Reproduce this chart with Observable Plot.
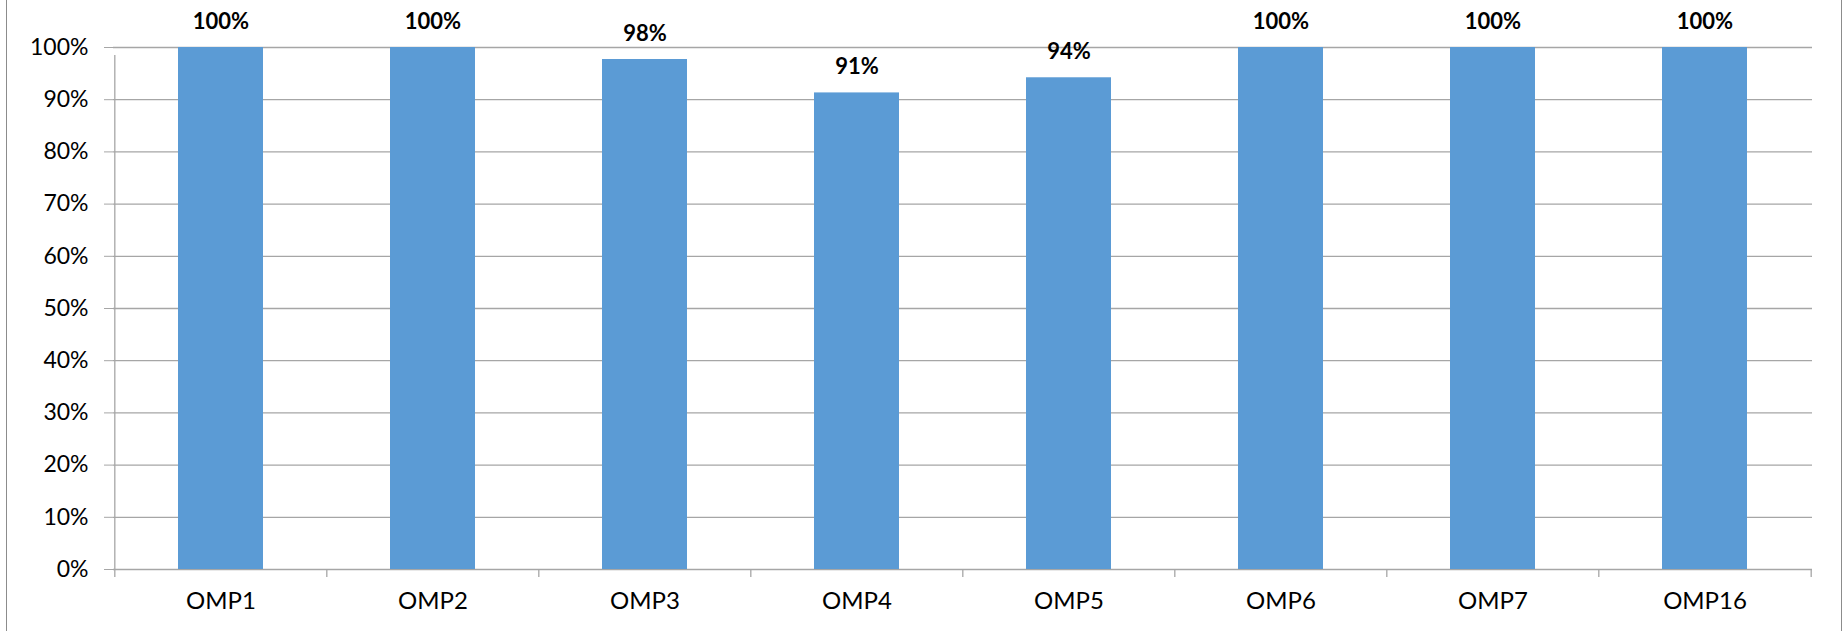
<!DOCTYPE html>
<html>
<head>
<meta charset="utf-8">
<script src="https://cdn.jsdelivr.net/npm/d3@7"></script>
<script src="https://cdn.jsdelivr.net/npm/@observablehq/plot@0.6"></script>
<style>
  html, body { margin: 0; padding: 0; background: #fff; }
  #wrap { position: relative; width: 1843px; height: 631px; overflow: hidden; }
  .edge { position: absolute; top: 0; bottom: 0; width: 1px; background: #8c8c8c; }
</style>
</head>
<body>
<div id="wrap">
  <div class="edge" style="left:6px"></div>
  <div class="edge" style="left:1841px"></div>
</div>
<script>
const categories = ["OMP1", "OMP2", "OMP3", "OMP4", "OMP5", "OMP6", "OMP7", "OMP16"];
const values = [1.00, 1.00, 0.977, 0.913, 0.942, 1.00, 1.00, 1.00];
const labels = ["100%", "100%", "98%", "91%", "94%", "100%", "100%", "100%"];
const yTicks = [0, 0.1, 0.2, 0.3, 0.4, 0.5, 0.6, 0.7, 0.8, 0.9, 1.0];

const data = categories.map((c, i) => ({cat: c, value: values[i], label: labels[i]}));

const W = 1843, H = 631;
const mL = 113, mR = 31, mT = 47, mB = 62;
const step = (W - mL - mR) / categories.length;

const plot = Plot.plot({
  width: W,
  height: H,
  marginLeft: mL,
  marginRight: mR,
  marginTop: mT,
  marginBottom: mB,
  style: {fontFamily: "Lato, 'Open Sans', sans-serif", background: "transparent", overflow: "visible"},
  x: {domain: categories, paddingInner: 0.6, paddingOuter: 0.3, label: null},
  y: {domain: [0, 1], label: null},
  marks: [
    Plot.ruleY(yTicks, {stroke: "#a6a6a6", strokeWidth: 1.3}),
    Plot.barY(data, {x: "cat", y: "value", fill: "#5b9bd5"}),
    Plot.ruleX(categories, {x: d => d, y1: 0, y2: 0, dx: -step / 2, insetBottom: -8, stroke: "#a6a6a6", strokeWidth: 1.3}),
    Plot.ruleX([categories[categories.length - 1]], {x: d => d, y1: 0, y2: 0, dx: step / 2, insetBottom: -8, stroke: "#a6a6a6", strokeWidth: 1.3}),
    Plot.ruleX([categories[0]], {x: d => d, y1: 0, y2: 1, dx: -step / 2, insetBottom: -8, stroke: "#a6a6a6", strokeWidth: 1.3}),
    Plot.axisY({ticks: yTicks, tickFormat: d => Math.round(d * 100) + "%", tickSize: 9, tickPadding: 16, stroke: "#a6a6a6", fill: "#000", fontSize: 23, label: null}),
    Plot.axisX({tickSize: 0, tickPadding: 22, fill: "#000", fontSize: 24, label: null}),
    Plot.text(data, {x: "cat", y: "value", text: "label", dy: -26, fontSize: 22, fontWeight: "bold", fill: "#000"})
  ]
});
plot.style.position = "absolute";
plot.style.left = "0";
plot.style.top = "0";
document.getElementById("wrap").appendChild(plot);
</script>
</body>
</html>
